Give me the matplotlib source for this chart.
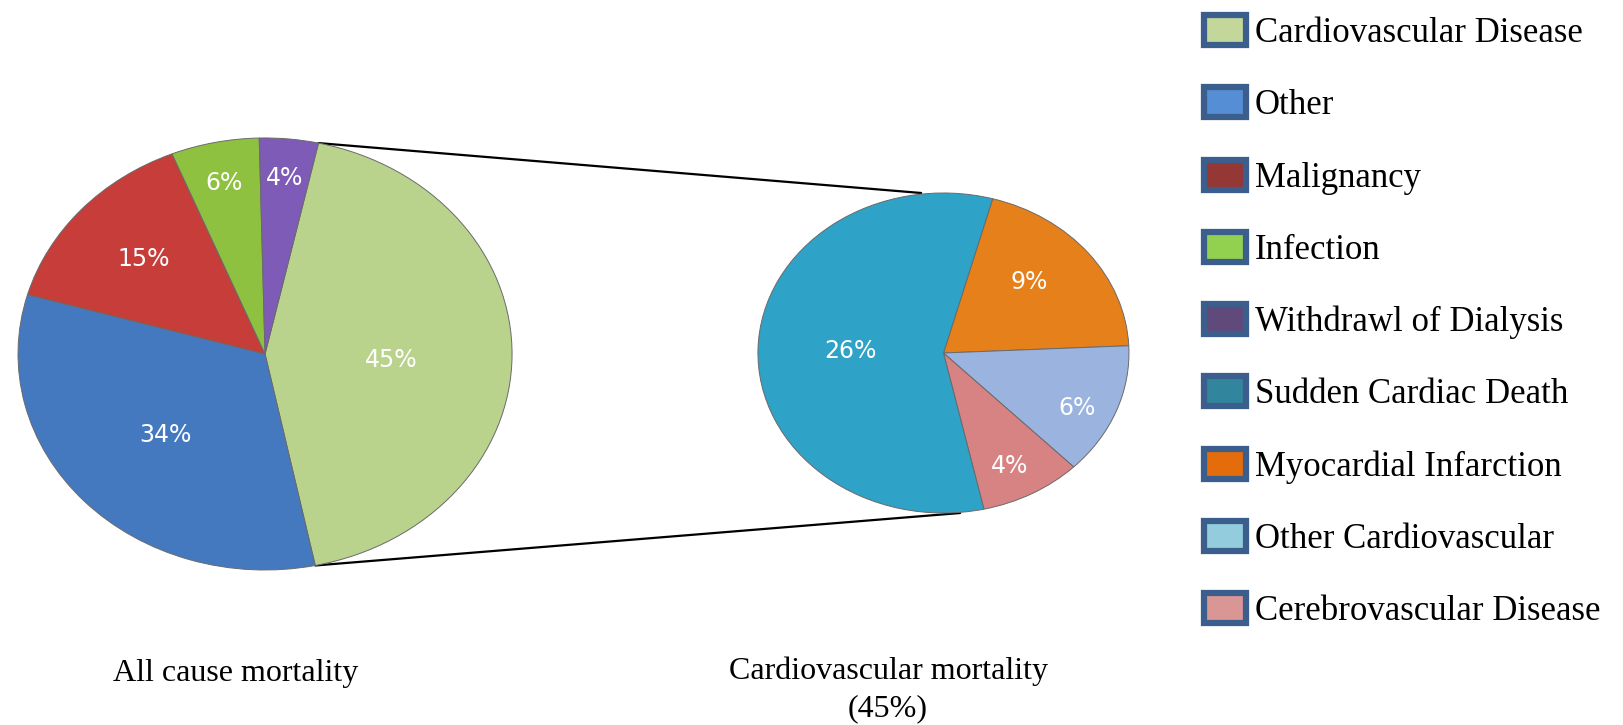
import numpy as np
import matplotlib
matplotlib.use("Agg")
import matplotlib.pyplot as plt
from matplotlib.patches import Patch, ConnectionPatch

# all cause mortality (left pie)
all_labels = ['Cardiovascular Disease', 'Other', 'Malignancy', 'Infection', 'Withdrawl of Dialysis']
all_values = [45, 34, 15, 6, 4]
all_colors = ['#B9D38D', '#4479C0', '#C63D39', '#8DC13F', '#7D5BB6']
all_legend_colors = ['#C4D79B', '#558ED5', '#953735', '#92D050', '#604A7B']

# cardiovascular mortality (right pie), clockwise from the top
cv_labels = ['Myocardial Infarction', 'Other Cardiovascular', 'Cerebrovascular Disease', 'Sudden Cardiac Death']
cv_values = [9, 6, 4, 26]
cv_colors = ['#E5801A', '#9AB3DF', '#D78383', '#2EA2C7']
cv_legend_colors = ['#E46C0A', '#93CDDD', '#D99694', '#31859C']

legend_order = ['Cardiovascular Disease', 'Other', 'Malignancy', 'Infection', 'Withdrawl of Dialysis',
                'Sudden Cardiac Death', 'Myocardial Infarction', 'Other Cardiovascular',
                'Cerebrovascular Disease']

serif = ['Liberation Serif', 'DejaVu Serif']

fig = plt.figure(figsize=(16.23, 7.25), dpi=100)

ax1 = fig.add_axes([0.0111, 0.2138, 0.3044, 0.5959])
ax2 = fig.add_axes([0.467, 0.2924, 0.2286, 0.4414])


def draw_pie(ax, values, colors, start, dists, shifts):
    wedges, _ = ax.pie(values, colors=colors, startangle=start, counterclock=False,
                       radius=1, wedgeprops=dict(edgecolor='#6a6a6a', linewidth=0.7))
    ax.set_aspect('auto')
    ax.set_xlim(-1.0, 1.0)
    ax.set_ylim(-1.0, 1.0)
    ax.axis('off')
    # label sits on the wedge bisector, nudged a few degrees like excel's best fit
    for w, v, d, s in zip(wedges, values, dists, shifts):
        mid = np.deg2rad((w.theta1 + w.theta2) / 2 + s)
        ax.text(d * np.cos(mid), d * np.sin(mid), f'{v}%', color='white',
                fontsize=17, ha='center', va='center', family='DejaVu Sans')
    return wedges


w1 = draw_pie(ax1, all_values, all_colors, 77.5, [0.51, 0.55, 0.66, 0.81, 0.82], [-3, 0, 0, 0, 0])
w2 = draw_pie(ax2, cv_values, cv_colors, 74.6, [0.64, 0.8, 0.79, 0.5], [5, -4, -2, 0])

# connector lines from the CVD wedge to the exploded pie
cvd = w1[0]
for theta, target in [(cvd.theta2, (-0.12, 1.0)), (cvd.theta1, (0.09, -1.0))]:
    t = np.deg2rad(theta)
    con = ConnectionPatch(xyA=(np.cos(t), np.sin(t)), coordsA=ax1.transData,
                          xyB=target, coordsB=ax2.transData,
                          color='black', linewidth=1.6, zorder=0)
    fig.add_artist(con)

# legend
leg_colors = dict(zip(all_labels + cv_labels, all_legend_colors + cv_legend_colors))
handles = [Patch(facecolor=leg_colors[l], edgecolor='#3B5E8C', linewidth=4.5,
                 joinstyle='round', label=l) for l in legend_order]
fig.legend(handles=handles, loc='upper left', bbox_to_anchor=(0.742, 0.979),
           frameon=False, prop={'family': serif, 'size': 25},
           handlelength=1.2, handleheight=0.95, handletextpad=0.25,
           labelspacing=1.075, borderpad=0, borderaxespad=0)

fig.text(236 / 1623, 1 - 674 / 725, 'All cause mortality', ha='center', va='center',
         family=serif, fontsize=23)
fig.text(888 / 1623, 1 - 690 / 725, 'Cardiovascular mortality\n(45%)', ha='center',
         va='center', family=serif, fontsize=23, linespacing=1.35)

fig.savefig('out.png', dpi=100)
